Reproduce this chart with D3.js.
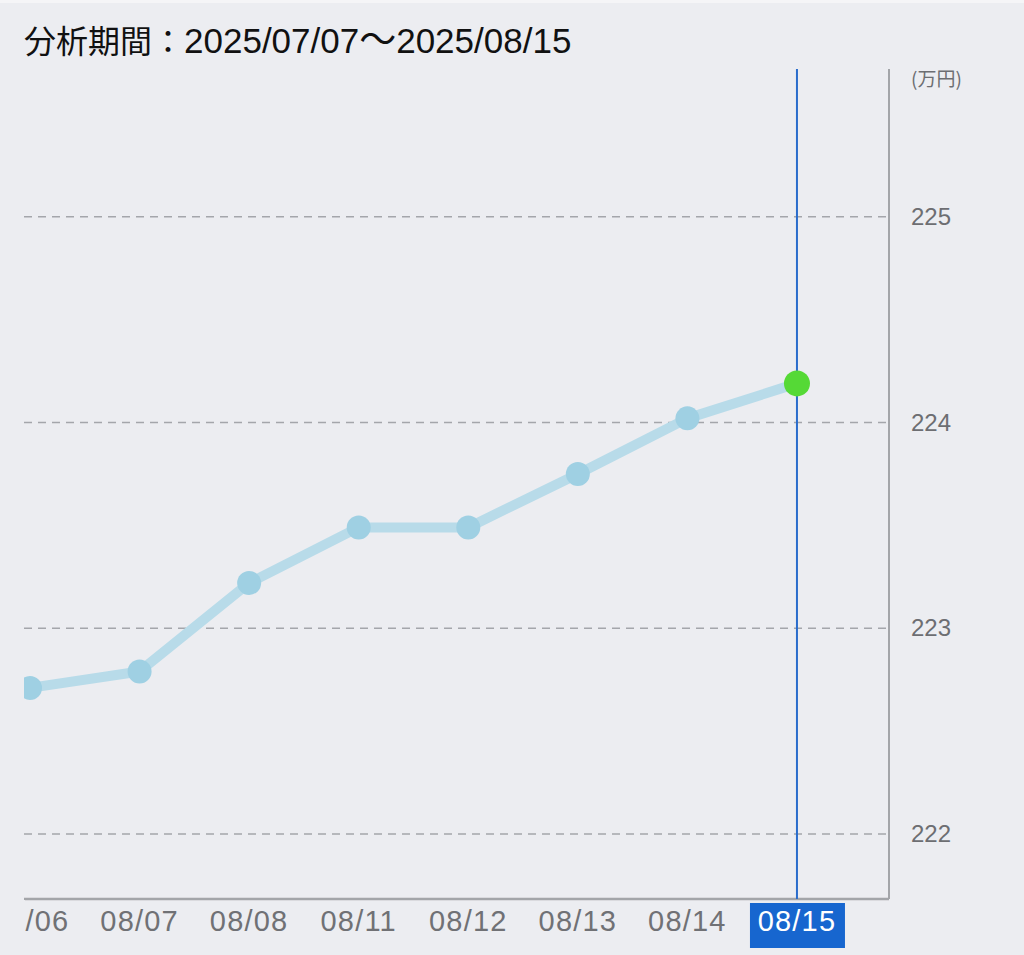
<!DOCTYPE html>
<html>
<head>
<meta charset="utf-8">
<script src="https://cdn.jsdelivr.net/npm/d3@7"></script>
<style>
  html, body { margin: 0; padding: 0; background: #ecedf1; }
  svg { display: block; }
</style>
</head>
<body>
<svg></svg>
<script>
var dates = ["08/06", "08/07", "08/08", "08/11", "08/12", "08/13", "08/14", "08/15"];
var values = [222.71, 222.79, 223.22, 223.49, 223.49, 223.75, 224.02, 224.19];
var yTicks = [222, 223, 224, 225];
var titleParts = ["分析期間：", "2025/07/07", "～", "2025/08/15"];
var unit = "(万円)";
var selected = "08/15";

var width = 1024;
var height = 955;
var plotLeft = 24, plotRight = 889, plotTop = 69, plotBottom = 899;

var svg = d3.select("svg")
    .attr("width", width)
    .attr("height", height);

svg.append("rect")
    .attr("width", width).attr("height", height)
    .attr("fill", "#ecedf1");
svg.append("rect")
    .attr("width", width).attr("height", 3)
    .attr("fill", "#f5f5f7");

// chart is scrolled, first day partly hidden
var x = d3.scaleLinear()
    .domain([-0.055, dates.length - 1 + 0.84])
    .range([plotLeft, plotRight]);
var y = d3.scaleLinear()
    .domain([221.684, 225.718])
    .range([plotBottom, plotTop]);

svg.append("defs").append("clipPath").attr("id", "plot")
    .append("rect")
    .attr("x", plotLeft).attr("y", plotTop)
    .attr("width", plotRight - plotLeft).attr("height", plotBottom - plotTop);

var title = svg.append("text")
    .attr("x", 24).attr("y", 53)
    .attr("fill", "#111");
title.selectAll("tspan")
    .data(titleParts)
    .enter().append("tspan")
    .attr("font-family", (d, i) => i % 2 === 0
        ? "'Noto Sans CJK JP', sans-serif"
        : "'Liberation Sans', Arial, sans-serif")
    .attr("font-size", (d, i) => i === 0 ? 32 : (i === 2 ? 37 : 35))
    .text(d => d);

// grid
var grid = svg.append("g").attr("class", "grid");
grid.selectAll("line")
    .data(yTicks)
    .enter().append("line")
    .attr("x1", plotLeft).attr("x2", plotRight)
    .attr("y1", d => y(d)).attr("y2", d => y(d))
    .attr("stroke", "#a4a6ab")
    .attr("stroke-width", 1.6)
    .attr("stroke-dasharray", "8,6");

// y axis on the right
var yAxis = svg.append("g")
    .attr("transform", "translate(" + plotRight + ",0)")
    .call(d3.axisRight(y).tickValues(yTicks).tickSize(0).tickPadding(22).tickFormat(d3.format("d")));
yAxis.select(".domain").remove();
yAxis.selectAll("text")
    .attr("font-family", "'Liberation Sans', Arial, sans-serif")
    .attr("font-size", 24)
    .attr("fill", "#6d6e72");

svg.append("line")
    .attr("x1", plotRight).attr("x2", plotRight)
    .attr("y1", plotTop).attr("y2", plotBottom)
    .attr("stroke", "#a3a5a9").attr("stroke-width", 2);
svg.append("line")
    .attr("x1", plotLeft).attr("x2", plotRight)
    .attr("y1", plotBottom).attr("y2", plotBottom)
    .attr("stroke", "#a3a5a9").attr("stroke-width", 2.5);

svg.append("text")
    .attr("x", 911).attr("y", 86)
    .attr("font-family", "'Noto Sans CJK JP', sans-serif")
    .attr("font-size", 19)
    .attr("fill", "#6d6e72")
    .text(unit);

// selected day marker
var si = dates.indexOf(selected);
svg.append("line")
    .attr("x1", x(si)).attr("x2", x(si))
    .attr("y1", plotTop).attr("y2", plotBottom)
    .attr("stroke", "#2a6ccc").attr("stroke-width", 2);

var plot = svg.append("g").attr("clip-path", "url(#plot)");

var line = d3.line()
    .x((d, i) => x(i))
    .y(d => y(d));

plot.append("path")
    .datum(values)
    .attr("d", line)
    .attr("fill", "none")
    .attr("stroke", "#b8dbe9")
    .attr("stroke-width", 10)
    .attr("stroke-linejoin", "round");

plot.selectAll("circle")
    .data(values)
    .enter().append("circle")
    .attr("cx", (d, i) => x(i))
    .attr("cy", d => y(d))
    .attr("r", (d, i) => i === si ? 13 : 12)
    .attr("fill", (d, i) => i === si ? "#55d936" : "#9fd0e3");

// x labels
var xl = svg.append("g").attr("class", "xlabels");
var lab = xl.selectAll("g")
    .data(dates)
    .enter().append("g")
    .attr("transform", (d, i) => "translate(" + x(i) + ",0)");

lab.filter(d => d === selected).append("rect")
    .attr("x", -47).attr("y", 903)
    .attr("width", 95).attr("height", 45)
    .attr("fill", "#1766cf");

lab.append("text")
    .attr("y", 931)
    .attr("text-anchor", "middle")
    .attr("font-family", "'Liberation Sans', Arial, sans-serif")
    .attr("font-size", 29)
    .attr("letter-spacing", 1.2)
    .attr("fill", d => d === selected ? "#ffffff" : "#707175")
    .text(d => d);

// first label is cut off at the left edge
xl.append("rect")
    .attr("x", 0).attr("y", 900)
    .attr("width", 25).attr("height", 55)
    .attr("fill", "#ecedf1");
</script>
</body>
</html>
